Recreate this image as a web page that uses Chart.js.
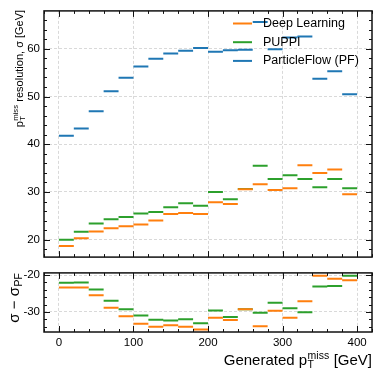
<!DOCTYPE html>
<html>
<head>
<meta charset="utf-8">
<script src="https://cdn.jsdelivr.net/npm/chart.js@4.4.0/dist/chart.umd.min.js"></script>
<style>
body { margin: 0; background: #fff; }
.panel { position: absolute; left: 0; width: 374px; }
</style>
</head>
<body>
<div class="panel" style="top:0;height:268px"><canvas id="resTop"></canvas></div>
<div class="panel" style="top:262px;height:106px"><canvas id="resBottom"></canvas></div>
<script>
// generated pT miss bins [GeV]
var binEdges = [0, 20, 40, 60, 80, 100, 120, 140, 160, 180, 200, 220, 240, 260, 280, 300, 320, 340, 360, 380, 400];

// resolution sigma [GeV] per bin
var dlSigma    = [18.7, 20.3, 21.7, 22.4, 22.8, 23.2, 24.0, 25.4, 25.6, 25.4, 27.85, 27.5, 30.55, 31.6, 30.4, 30.8, 35.6, 34.0, 34.7, 29.5];
var puppiSigma = [20.0, 21.65, 23.4, 24.3, 24.75, 25.5, 25.8, 26.8, 27.65, 27.1, 30.0, 28.45, 30.6, 35.5, 32.7, 33.5, 32.7, 31.0, 32.7, 30.8];
var pfSigma    = [41.8, 43.3, 46.9, 51.1, 53.95, 56.3, 57.9, 59.0, 59.6, 60.2, 59.4, 59.7, 59.8, 65.6, 59.9, 62.4, 62.6, 53.75, 55.3, 50.5];

// sigma - sigma_PF
var dlDiff    = [-23.4, -23.4, -25.5, -28.9, -31.2, -33.2, -34.0, -33.6, -34.0, -34.75, -31.6, -32.2, -29.3, -33.9, -29.7, -31.6, -27.1, -20.2, -21.0, -21.4];
var puppiDiff = [-22.1, -22.0, -23.9, -27.0, -29.3, -31.0, -32.1, -32.3, -32.0, -33.1, -29.6, -31.4, -29.3, -30.2, -27.5, -29.0, -30.1, -23.1, -23.0, -20.2];

var xTicks = [0, 100, 200, 300, 400];
var topYTicks = [20, 30, 40, 50, 60];
var bottomYTicks = [-30, -20];

var FONT = "'Liberation Sans', Arial, sans-serif";
Chart.defaults.font.family = FONT;
Chart.defaults.color = '#000';

var ORANGE = '#ff7f0e', GREEN = '#2ca02c', BLUE = '#1f77b4';

// horizontal bar per bin, broken between bins
function steps(vals) {
    var pts = [];
    for (var i = 0; i < vals.length; i++) {
        pts.push({x: binEdges[i], y: vals[i]});
        pts.push({x: binEdges[i + 1], y: vals[i]});
        pts.push({x: binEdges[i + 1], y: null});
    }
    return pts;
}

function ds(label, vals, color) {
    return {
        label: label,
        data: steps(vals),
        borderColor: color,
        backgroundColor: color,
        borderWidth: 2,
        borderCapStyle: 'butt',
        pointRadius: 0,
        pointHoverRadius: 0,
        tension: 0,
        spanGaps: false
    };
}

function fixedTicks(list) {
    return function(scale) { scale.ticks = list.map(function(v) { return {value: v}; }); };
}

// inward ticks on all four sides + frame
var frameTicks = {
    id: 'frameTicks',
    afterDraw: function(chart) {
        var ctx = chart.ctx, a = chart.chartArea, x = chart.scales.x, y = chart.scales.y;
        ctx.save();
        ctx.strokeStyle = '#111';
        ctx.lineWidth = 1;
        ctx.beginPath();
        for (var v = Math.ceil(x.min / 20) * 20; v <= x.max; v += 20) {
            var px = Math.round(x.getPixelForValue(v)) + 0.5;
            var len = v % 100 === 0 ? 6 : 3;
            ctx.moveTo(px, a.bottom); ctx.lineTo(px, a.bottom - len);
            ctx.moveTo(px, a.top); ctx.lineTo(px, a.top + len);
        }
        for (var w = Math.ceil(y.min / 2) * 2; w <= y.max; w += 2) {
            var py = Math.round(y.getPixelForValue(w)) + 0.5;
            var l2 = w % 10 === 0 ? 6 : 3;
            ctx.moveTo(a.left, py); ctx.lineTo(a.left + l2, py);
            ctx.moveTo(a.right, py); ctx.lineTo(a.right - l2, py);
        }
        ctx.stroke();
        ctx.lineWidth = 1.5;
        ctx.strokeRect(a.left, a.top, a.right - a.left, a.bottom - a.top);
        ctx.restore();
    }
};

// text with a stacked sub/superscript block, e.g. p_T^miss
function richWidth(ctx, parts, size) {
    var w = 0;
    parts.forEach(function(p) {
        if (typeof p === 'string') {
            ctx.font = size + 'px ' + FONT;
            w += ctx.measureText(p).width;
        } else {
            ctx.font = (size * 0.7) + 'px ' + FONT;
            w += Math.max(ctx.measureText(p.sub || '').width, ctx.measureText(p.sup || '').width) + size * 0.05;
        }
    });
    return w;
}
function richDraw(ctx, parts, size, x0, y0) {
    var x = x0;
    ctx.textBaseline = 'alphabetic';
    ctx.textAlign = 'left';
    parts.forEach(function(p) {
        if (typeof p === 'string') {
            ctx.font = size + 'px ' + FONT;
            ctx.fillText(p, x, y0);
            x += ctx.measureText(p).width;
        } else {
            ctx.font = (size * 0.7) + 'px ' + FONT;
            var x1 = x + size * 0.03;
            if (p.sub) ctx.fillText(p.sub, x1, y0 + size * 0.22);
            if (p.sup) ctx.fillText(p.sup, x1, y0 - size * 0.42);
            x += Math.max(ctx.measureText(p.sub || '').width, ctx.measureText(p.sup || '').width) + size * 0.05;
        }
    });
}
function yTitle(ctx, parts, size, baseX, topY) {
    var w = richWidth(ctx, parts, size);
    ctx.save();
    ctx.translate(baseX, topY);
    ctx.rotate(-Math.PI / 2);
    ctx.fillStyle = '#000';
    richDraw(ctx, parts, size, -w, 0);
    ctx.restore();
}

var topDecor = {
    id: 'topDecor',
    afterDraw: function(chart) {
        var ctx = chart.ctx, a = chart.chartArea;
        yTitle(ctx, ['p', {sub: 'T', sup: 'miss'}, ' resolution, \u03c3 [GeV]'], 11, 23, a.top - 1);
        // legend
        ctx.save();
        ctx.font = '12.5px ' + FONT;
        ctx.textBaseline = 'middle';
        ctx.fillStyle = '#000';
        chart.data.datasets.forEach(function(d, i) {
            var ly = 23.5 + i * 18.7;
            ctx.strokeStyle = d.borderColor;
            ctx.lineWidth = 2;
            ctx.beginPath();
            ctx.moveTo(233, ly); ctx.lineTo(252, ly);
            ctx.stroke();
            ctx.fillText(d.label, 263, ly);
        });
        ctx.restore();
    }
};

var bottomDecor = {
    id: 'bottomDecor',
    afterDraw: function(chart) {
        var ctx = chart.ctx, a = chart.chartArea;
        yTitle(ctx, ['\u03c3 \u2212 \u03c3', {sub: 'PF'}], 15, 19, a.top);
        var parts = ['Generated p', {sub: 'T', sup: 'miss'}, ' [GeV]'];
        var w = richWidth(ctx, parts, 15);
        ctx.save();
        ctx.fillStyle = '#000';
        richDraw(ctx, parts, 15, a.right - w, chart.height - 3);
        ctx.restore();
    }
};

var gridOpts = {color: '#d9d9d9', lineWidth: 1, drawTicks: false};
var borderOpts = {display: false, dash: [3, 2]};

new Chart(document.getElementById('resTop'), {
    type: 'line',
    data: {
        datasets: [
            ds('Deep Learning', dlSigma, ORANGE),
            ds('PUPPI', puppiSigma, GREEN),
            ds('ParticleFlow (PF)', pfSigma, BLUE)
        ]
    },
    options: {
        animation: false,
        responsive: true,
        maintainAspectRatio: false,
        devicePixelRatio: 1,
        layout: {padding: {left: 0, right: 2, top: 5, bottom: 1}},
        plugins: {legend: {display: false}, tooltip: {enabled: false}},
        scales: {
            x: {
                type: 'linear', min: -20, max: 420, bounds: 'data',
                afterBuildTicks: fixedTicks(xTicks),
                ticks: {display: false},
                grid: gridOpts, border: borderOpts,
                afterFit: function(s) { s.height = 0; }
            },
            y: {
                type: 'linear', min: 16.35, max: 67.95, bounds: 'data',
                afterBuildTicks: fixedTicks(topYTicks),
                ticks: {font: {size: 11.5}, padding: 4},
                grid: gridOpts, border: borderOpts,
                afterFit: function(s) { s.width = 44; }
            }
        }
    },
    plugins: [frameTicks, topDecor]
});

new Chart(document.getElementById('resBottom'), {
    type: 'line',
    data: {
        datasets: [
            ds('Deep Learning', dlDiff, ORANGE),
            ds('PUPPI', puppiDiff, GREEN)
        ]
    },
    options: {
        animation: false,
        responsive: true,
        maintainAspectRatio: false,
        devicePixelRatio: 1,
        layout: {padding: {left: 0, right: 2, top: 5, bottom: 0}},
        plugins: {legend: {display: false}, tooltip: {enabled: false}},
        scales: {
            x: {
                type: 'linear', min: -20, max: 420, bounds: 'data',
                afterBuildTicks: fixedTicks(xTicks),
                ticks: {font: {size: 11.5}, padding: 4, maxRotation: 0},
                grid: gridOpts, border: borderOpts,
                afterFit: function(s) { s.height = 36; }
            },
            y: {
                type: 'linear', min: -35.45, max: -19.43, bounds: 'data',
                afterBuildTicks: fixedTicks(bottomYTicks),
                ticks: {font: {size: 11.5}, padding: 4},
                grid: gridOpts, border: borderOpts,
                afterFit: function(s) { s.width = 44; }
            }
        }
    },
    plugins: [frameTicks, bottomDecor]
});
</script>
</body>
</html>
